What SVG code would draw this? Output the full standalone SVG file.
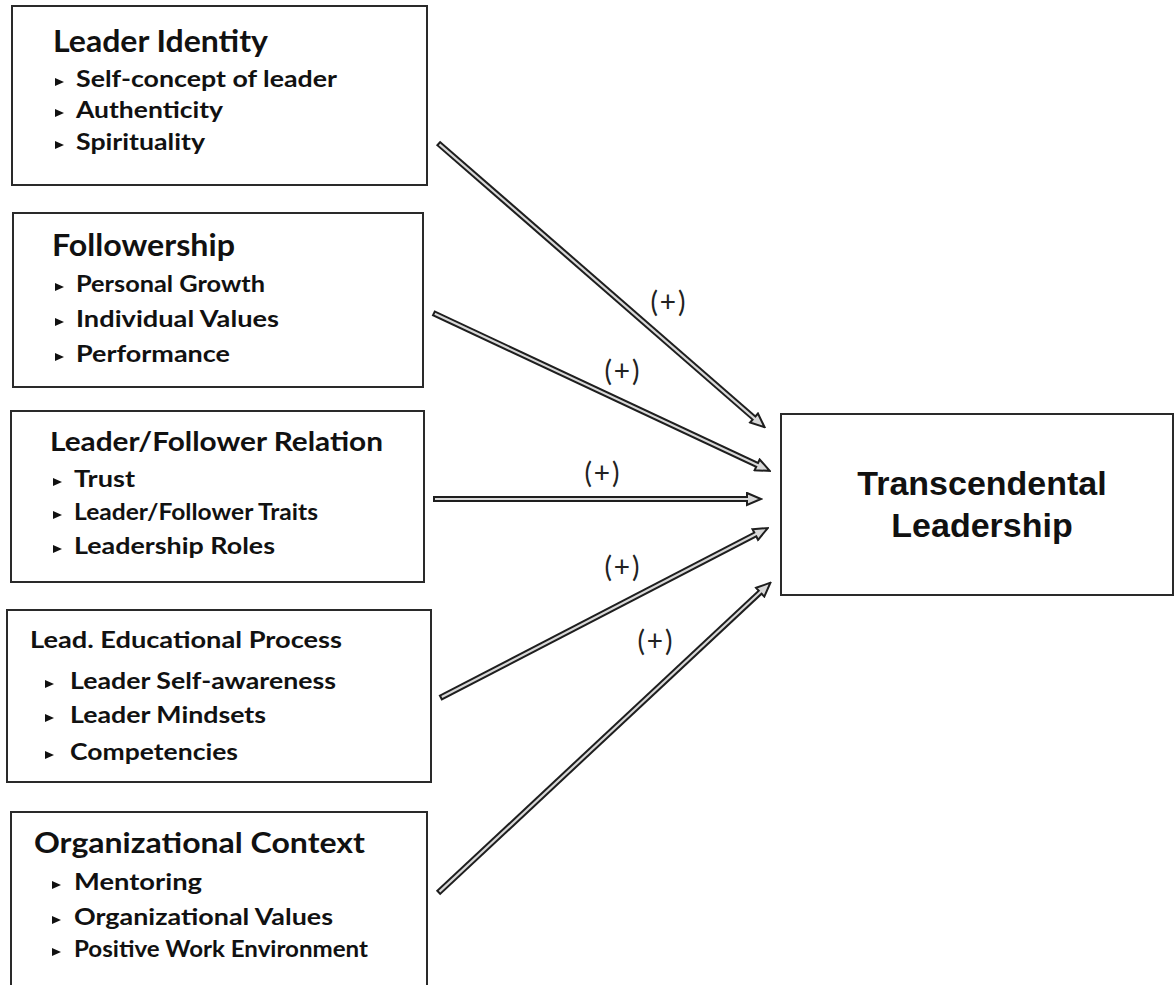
<svg xmlns="http://www.w3.org/2000/svg" width="1174" height="985" viewBox="0 0 1174 985">
<defs>
<style>
.box{fill:#fff;stroke:#2a2a2a;stroke-width:2}
.t{font-family:Lato,"Open Sans","Liberation Sans",sans-serif;font-weight:bold;fill:#111}
.b{font-family:Lato,"Open Sans","Liberation Sans",sans-serif;font-weight:bold;fill:#111;font-size:22px}
.tl{font-family:"Liberation Sans",Arial,sans-serif;font-weight:bold;fill:#111;font-size:34px}
.pl{font-family:Lato,"Open Sans","Liberation Sans",sans-serif;fill:#222;font-size:28px;letter-spacing:2px}
.bul{fill:#111}
.outer{fill:none;stroke:#1e1e1e;stroke-width:6.2;stroke-linecap:butt}
.inner{fill:none;stroke:#d8d8d8;stroke-width:2.2;stroke-linecap:butt}
</style>
<marker id="ah" markerUnits="userSpaceOnUse" markerWidth="17" markerHeight="15" viewBox="0 0 17 15" refX="1.5" refY="7.5" orient="auto">
<path d="M1.5,1.5 L15.5,7.5 L1.5,13.5 Z" fill="#d8d8d8" stroke="#1e1e1e" stroke-width="2" stroke-linejoin="miter"/>
</marker>
<path id="tri" d="M0,0 L9,4 L0,8 Z"/>
</defs>
<rect width="1174" height="985" fill="#fff"/>

<g id="node-leader-identity">
<rect class="box" x="12" y="6" width="415" height="179"/>
<text class="t" x="53" y="52" font-size="30" textLength="215" lengthAdjust="spacingAndGlyphs">Leader Identity</text>
<use href="#tri" class="bul" x="55" y="78"/>
<text class="b" x="76" y="87" textLength="261" lengthAdjust="spacingAndGlyphs">Self-concept of leader</text>
<use href="#tri" class="bul" x="55" y="109"/>
<text class="b" x="76" y="118" textLength="147" lengthAdjust="spacingAndGlyphs">Authenticity</text>
<use href="#tri" class="bul" x="55" y="141"/>
<text class="b" x="76" y="150" textLength="129" lengthAdjust="spacingAndGlyphs">Spirituality</text>
</g>

<g id="node-followership">
<rect class="box" x="13" y="213" width="410" height="174"/>
<text class="t" x="52" y="256" font-size="30" textLength="183" lengthAdjust="spacingAndGlyphs">Followership</text>
<use href="#tri" class="bul" x="55" y="283"/>
<text class="b" x="76" y="292" textLength="189" lengthAdjust="spacingAndGlyphs">Personal Growth</text>
<use href="#tri" class="bul" x="55" y="318"/>
<text class="b" x="76" y="327" textLength="203" lengthAdjust="spacingAndGlyphs">Individual Values</text>
<use href="#tri" class="bul" x="55" y="353"/>
<text class="b" x="76" y="362" textLength="154" lengthAdjust="spacingAndGlyphs">Performance</text>
</g>

<g id="node-relation">
<rect class="box" x="11" y="411" width="413" height="171"/>
<text class="t" x="50" y="451" font-size="27" textLength="333" lengthAdjust="spacingAndGlyphs">Leader/Follower Relation</text>
<use href="#tri" class="bul" x="53" y="478"/>
<text class="b" x="74" y="487" textLength="61" lengthAdjust="spacingAndGlyphs">Trust</text>
<use href="#tri" class="bul" x="53" y="511"/>
<text class="b" x="74" y="520" textLength="244" lengthAdjust="spacingAndGlyphs">Leader/Follower Traits</text>
<use href="#tri" class="bul" x="53" y="545"/>
<text class="b" x="74" y="554" textLength="201" lengthAdjust="spacingAndGlyphs">Leadership Roles</text>
</g>

<g id="node-educational">
<rect class="box" x="7" y="610" width="424" height="172"/>
<text class="t" x="30" y="648" font-size="22" fill="#000" textLength="312" lengthAdjust="spacingAndGlyphs">Lead. Educational Process</text>
<use href="#tri" class="bul" x="45" y="680"/>
<text class="b" x="70" y="689" textLength="266" lengthAdjust="spacingAndGlyphs">Leader Self-awareness</text>
<use href="#tri" class="bul" x="45" y="714"/>
<text class="b" x="70" y="723" textLength="196" lengthAdjust="spacingAndGlyphs">Leader Mindsets</text>
<use href="#tri" class="bul" x="45" y="751"/>
<text class="b" x="70" y="760" textLength="168" lengthAdjust="spacingAndGlyphs">Competencies</text>
</g>

<g id="node-org-context">
<rect class="box" x="11" y="812" width="416" height="190"/>
<text class="t" x="34" y="853" font-size="28" textLength="331" lengthAdjust="spacingAndGlyphs">Organizational Context</text>
<use href="#tri" class="bul" x="52" y="881"/>
<text class="b" x="74" y="890" textLength="128" lengthAdjust="spacingAndGlyphs">Mentoring</text>
<use href="#tri" class="bul" x="52" y="916"/>
<text class="b" x="74" y="925" textLength="259" lengthAdjust="spacingAndGlyphs">Organizational Values</text>
<use href="#tri" class="bul" x="52" y="948"/>
<text class="b" x="74" y="957" textLength="294" lengthAdjust="spacingAndGlyphs">Positive Work Environment</text>
</g>

<g id="node-transcendental">
<rect class="box" x="781" y="414" width="392" height="181"/>
<text class="tl" x="982" y="495" text-anchor="middle">Transcendental</text>
<text class="tl" x="982" y="537" text-anchor="middle">Leadership</text>
</g>

<g id="connectors">
<path class="outer" d="M438,143 L754,418" marker-end="url(#ah)"/>
<path class="inner" d="M439.5,144.3 L755.5,419.3"/>
<path class="outer" d="M433,313 L757.1,464.9" marker-end="url(#ah)"/>
<path class="inner" d="M434.8,313.8 L759,465.8"/>
<path class="outer" d="M433,499 L747,499" marker-end="url(#ah)"/>
<path class="inner" d="M435,499 L749,499"/>
<path class="outer" d="M440,698 L755.3,534.5" marker-end="url(#ah)"/>
<path class="inner" d="M441.8,697.1 L757.1,533.6"/>
<path class="outer" d="M438,893 L760.2,592.2" marker-end="url(#ah)"/>
<path class="inner" d="M439.5,891.6 L761.7,590.8"/>
</g>

<g id="labels">
<text class="pl" x="669" y="312" text-anchor="middle">(+)</text>
<text class="pl" x="623" y="381" text-anchor="middle">(+)</text>
<text class="pl" x="603" y="483" text-anchor="middle">(+)</text>
<text class="pl" x="623" y="577" text-anchor="middle">(+)</text>
<text class="pl" x="656" y="651" text-anchor="middle">(+)</text>
</g>
</svg>
